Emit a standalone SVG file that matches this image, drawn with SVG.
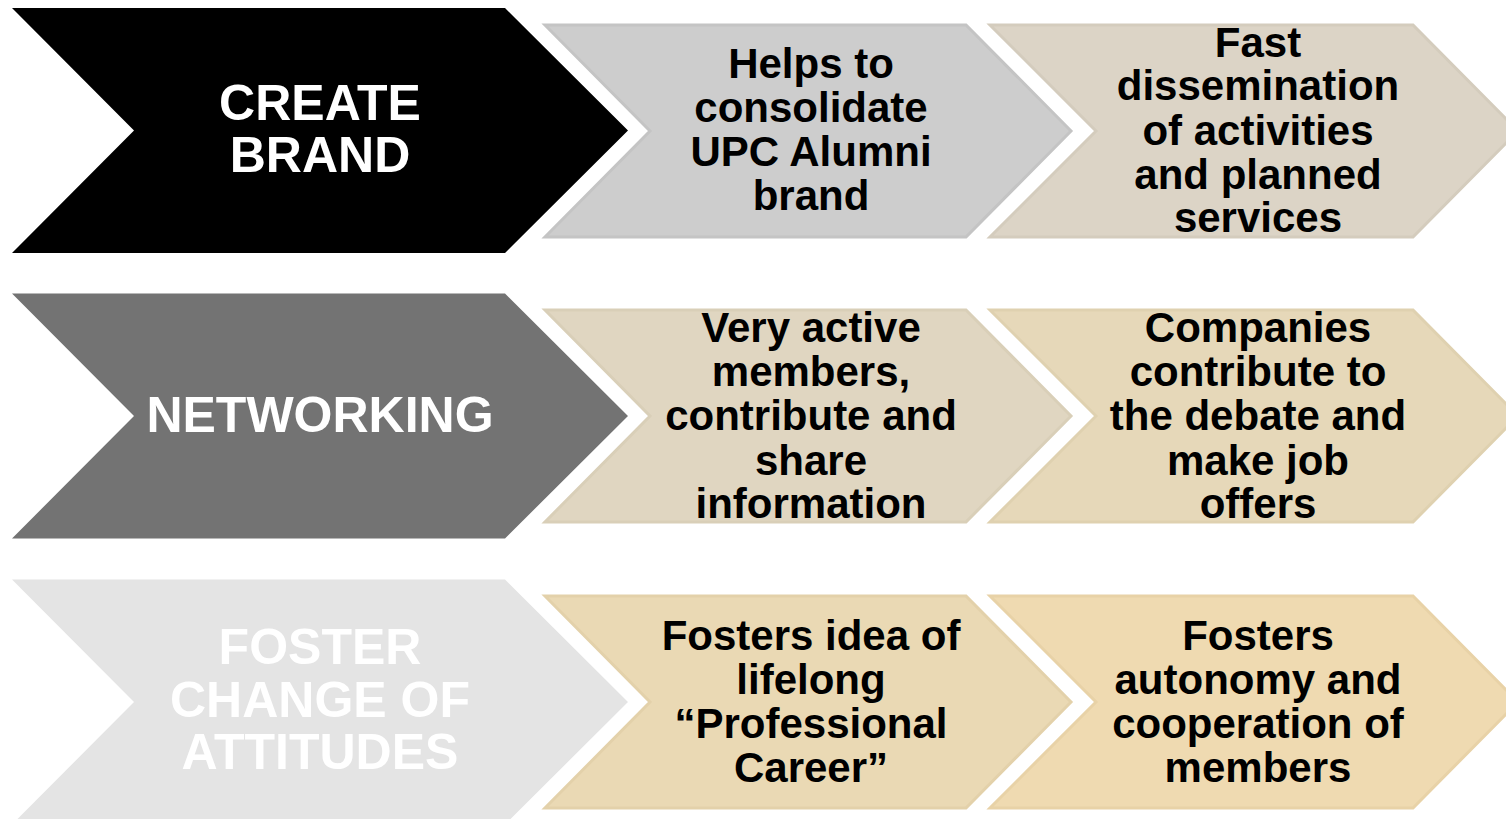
<svg xmlns="http://www.w3.org/2000/svg" width="1506" height="819" viewBox="0 0 1506 819">
<defs>
<style>
.big{stroke:none}
.sm{stroke-width:3;stroke-linejoin:miter}
.lbl{font-family:"Liberation Sans",Arial,sans-serif;font-weight:bold;text-anchor:middle}
.w{fill:#ffffff;font-size:50px}
.b{fill:#000000;font-size:42px}
</style>
<path id="bigc" d="M12,-122.5 L505,-122.5 L628,0 L505,122.5 L12,122.5 L134,0 Z"/>
<path id="c2" d="M545,-106 L966,-106 L1071,0 L966,106 L545,106 L650,0 Z"/>
<path id="c3" d="M990,-106 L1413,-106 L1518,0 L1413,106 L990,106 L1096,0 Z"/>
</defs>
<rect width="1506" height="819" fill="#ffffff"/>
<g id="connectors"/>
<g id="create-brand" transform="translate(0,130.5)">
<use href="#bigc" class="big" fill="#000000"/>
<text class="lbl w" x="320" y="-11">CREATE</text>
<text class="lbl w" x="320" y="41">BRAND</text>
</g>
<g id="helps-consolidate" transform="translate(0,131)">
<use href="#c2" class="sm" fill="#cdcdcd" stroke="#c4c4c4"/>
<text class="lbl b" x="811" y="-53">Helps to</text>
<text class="lbl b" x="811" y="-9">consolidate</text>
<text class="lbl b" x="811" y="35">UPC Alumni</text>
<text class="lbl b" x="811" y="79">brand</text>
</g>
<g id="fast-dissemination" transform="translate(0,131)">
<use href="#c3" class="sm" fill="#dcd4c6" stroke="#d4ccbd"/>
<text class="lbl b" x="1258" y="-74">Fast</text>
<text class="lbl b" x="1258" y="-31">dissemination</text>
<text class="lbl b" x="1258" y="14">of activities</text>
<text class="lbl b" x="1258" y="58">and planned</text>
<text class="lbl b" x="1258" y="101">services</text>
</g>
<g id="networking" transform="translate(0,416)">
<use href="#bigc" class="big" fill="#737373"/>
<text class="lbl w" x="320" y="16">NETWORKING</text>
</g>
<g id="active-members" transform="translate(0,416)">
<use href="#c2" class="sm" fill="#e0d6c1" stroke="#d9cfb8"/>
<text class="lbl b" x="811" y="-74">Very active</text>
<text class="lbl b" x="811" y="-30">members,</text>
<text class="lbl b" x="811" y="14">contribute and</text>
<text class="lbl b" x="811" y="59">share</text>
<text class="lbl b" x="811" y="102">information</text>
</g>
<g id="companies" transform="translate(0,416)">
<use href="#c3" class="sm" fill="#e6d8b9" stroke="#dfd1b0"/>
<text class="lbl b" x="1258" y="-74">Companies</text>
<text class="lbl b" x="1258" y="-30">contribute to</text>
<text class="lbl b" x="1258" y="14">the debate and</text>
<text class="lbl b" x="1258" y="59">make job</text>
<text class="lbl b" x="1258" y="102">offers</text>
</g>
<g id="foster-change" transform="translate(0,702)">
<use href="#bigc" class="big" fill="#e4e4e4"/>
<text class="lbl w" x="320" y="-38">FOSTER</text>
<text class="lbl w" x="320" y="15">CHANGE OF</text>
<text class="lbl w" x="320" y="67">ATTITUDES</text>
</g>
<g id="professional-career" transform="translate(0,702)">
<use href="#c2" class="sm" fill="#ead9b4" stroke="#e3d1aa"/>
<text class="lbl b" x="811" y="-52">Fosters idea of</text>
<text class="lbl b" x="811" y="-8">lifelong</text>
<text class="lbl b" x="811" y="36">“Professional</text>
<text class="lbl b" x="811" y="80">Career”</text>
</g>
<g id="autonomy" transform="translate(0,702)">
<use href="#c3" class="sm" fill="#efdab1" stroke="#e8d2a7"/>
<text class="lbl b" x="1258" y="-52">Fosters</text>
<text class="lbl b" x="1258" y="-8">autonomy and</text>
<text class="lbl b" x="1258" y="36">cooperation of</text>
<text class="lbl b" x="1258" y="80">members</text>
</g>
</svg>
